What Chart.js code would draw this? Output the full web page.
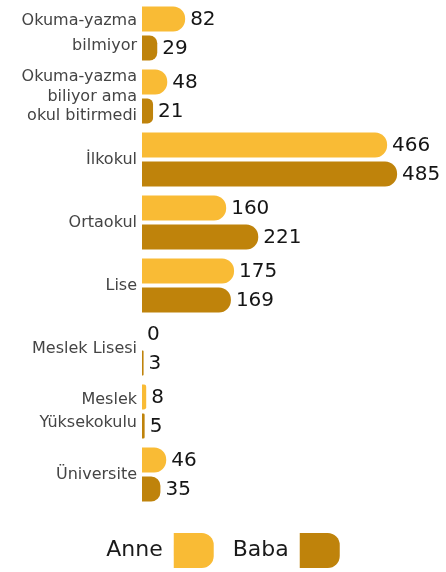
<!DOCTYPE html>
<html><head><meta charset="utf-8">
<script src="https://cdn.jsdelivr.net/npm/chart.js@4.4.1/dist/chart.umd.min.js"></script>
<style>html,body{margin:0;padding:0;background:#fff}#w{width:446px;height:572px}</style>
</head><body><div id="w"><canvas id="c"></canvas></div>
<script>
const categories = [["Okuma-yazma","bilmiyor"],["Okuma-yazma","biliyor ama","okul bitirmedi"],"İlkokul","Ortaokul","Lise","Meslek Lisesi",["Meslek","Yüksekokulu"],"Üniversite"];
const anne = [82,48,466,160,175,0,8,46];
const baba = [29,21,485,221,169,3,5,35];
const seriesNames = ["Anne","Baba"];
const FONT = "'DejaVu Sans', sans-serif";
const lineHeights = [1.6,1.2,1.2,1.2,1.2,1.2,1.4,1.2];
const radius = {topLeft:0,bottomLeft:0,topRight:12,bottomRight:12};

const valueLabels = {
  id:'valueLabels',
  afterDatasetsDraw(chart){
    const ctx = chart.ctx;
    ctx.save();
    ctx.font = "20px " + FONT;
    ctx.fillStyle = "#151515";
    ctx.textBaseline = "middle";
    ctx.textAlign = "left";
    chart.data.datasets.forEach((ds,di)=>{
      chart.getDatasetMeta(di).data.forEach((bar,i)=>{
        ctx.fillText(String(ds.data[i]), bar.x + 5, bar.y + 1);
      });
    });
    ctx.restore();
  }
};

new Chart(document.getElementById('c'), {
  type:'bar',
  data:{
    labels:categories,
    datasets:[
      {label:seriesNames[0], data:anne, backgroundColor:'#F9BB35', borderRadius:radius, borderSkipped:false, barPercentage:0.86, categoryPercentage:0.92},
      {label:seriesNames[1], data:baba, backgroundColor:'#BF830B', borderRadius:radius, borderSkipped:false, barPercentage:0.86, categoryPercentage:0.92}
    ]
  },
  options:{
    indexAxis:'y',
    responsive:true,
    maintainAspectRatio:false,
    animation:false,
    layout:{padding:{top:2,right:0,bottom:-6,left:0}},
    scales:{
      x:{display:false, min:0, max:578},
      y:{
        grid:{display:false, drawTicks:false}, border:{display:false},
        afterFit(s){ s.width = 142; s.paddingTop = 0; s.paddingBottom = 0; },
        ticks:{
          padding:5,
          color:'#444',
          font:(ctx)=>({family:FONT, size:16, lineHeight: lineHeights[ctx.index] || 1.2})
        }
      }
    },
    plugins:{
      legend:{
        position:'bottom',
        rtl:true,
        reverse:true,
        title:{display:true, text:'', padding:0, font:{size:8, lineHeight:1}},
        labels:{
          boxWidth:40, boxHeight:35, useBorderRadius:true, borderRadius:radius,
          padding:19,
          color:'#1a1a1a',
          font:{family:FONT, size:22}
        }
      },
      tooltip:{enabled:false}
    }
  },
  plugins:[valueLabels]
});
</script></body></html>
